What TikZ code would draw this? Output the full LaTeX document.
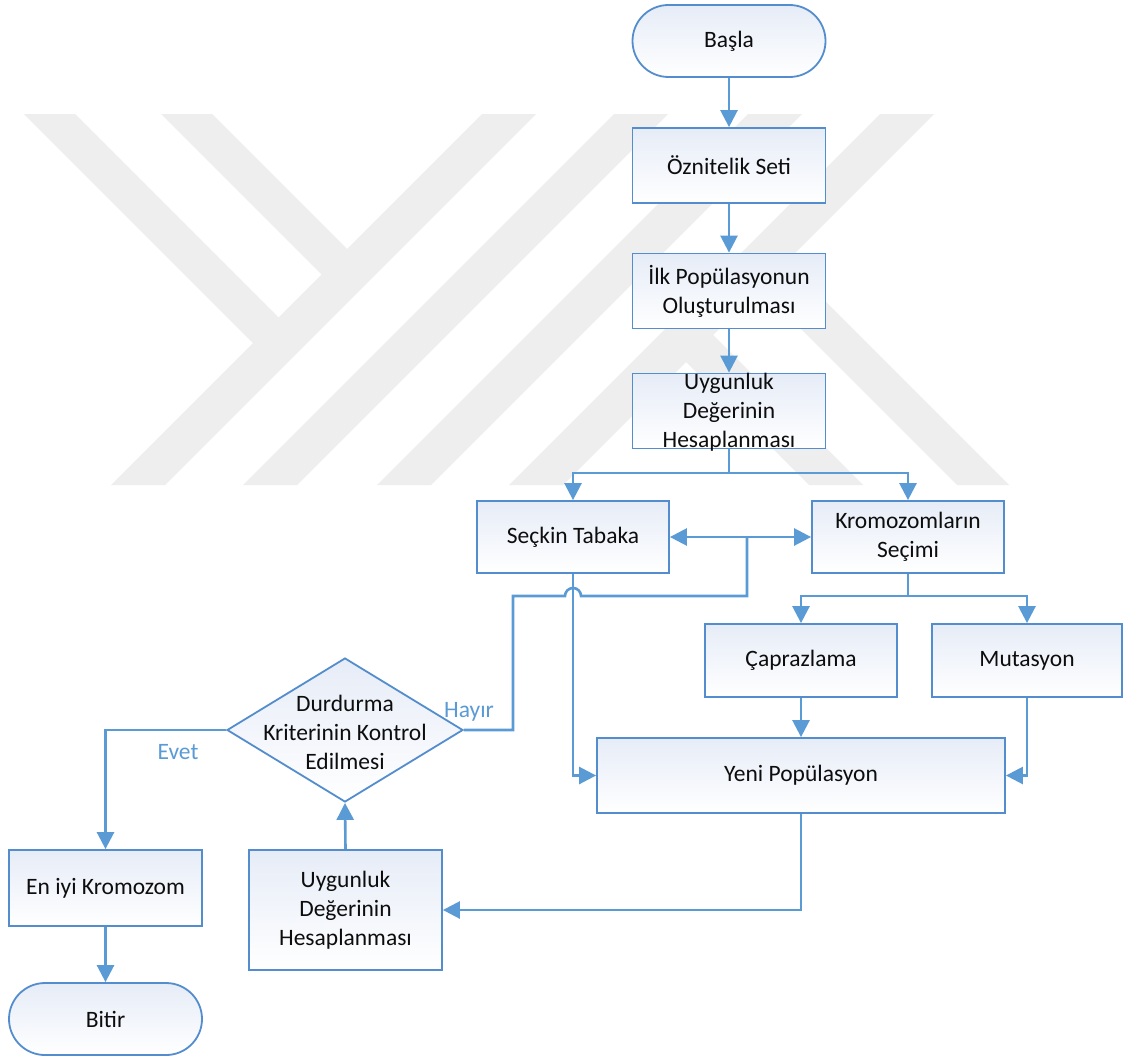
\documentclass[tikz,border=0pt]{standalone}
\usepackage{fontspec}
\setmainfont{Carlito}
\usetikzlibrary{arrows.meta,shapes.geometric}
\definecolor{linecol}{RGB}{91,155,213}
\definecolor{bordercol}{RGB}{84,141,205}
\definecolor{boxtop}{RGB}{230,236,247}
\definecolor{wm}{RGB}{238,238,238}
\definecolor{txtcol}{RGB}{13,13,13}
\newcommand{\lblfont}{\fontsize{23.5}{29}\selectfont}

\begin{document}
\begin{tikzpicture}[x=1pt,y=-1pt,
  box/.style={draw=bordercol, line width=1.8pt, top color=boxtop, bottom color=white,
    minimum width=193pt, minimum height=75pt, inner sep=0pt, align=center,
    font=\lblfont, text=txtcol},
  term/.style={box, rounded corners=36pt, minimum height=72pt},
  decision/.style={box, diamond, minimum width=236pt, minimum height=144pt},
  txt/.style={align=center, font=\lblfont, text=txtcol, inner sep=0pt},
  answer/.style={font=\lblfont, text=linecol, inner sep=0pt},
  conn/.style={draw=linecol, line width=2.6pt},
  arr/.style={conn, -{Triangle[length=17pt,width=17pt]}},
  band/.style={fill=wm, draw=none},
]
% page
\fill[white] (0,0) rectangle (1123,1057);
\useasboundingbox (0,0) rectangle (1123,1057);

% background logo bands
\fill[band] (24,114) -- (75,114) -- (280.5,319.5) -- (255,345) -- cycle;
\fill[band] (161,114) -- (212,114) -- (349,251) -- (323.5,276.5) -- cycle;
\fill[band] (482,114) -- (536,114) -- (165,485) -- (111,485) -- cycle;
\fill[band] (614,114) -- (668,114) -- (297,485) -- (243,485) -- cycle;
\fill[band] (748,114) -- (802,114) -- (431,485) -- (377,485) -- cycle;
\fill[band] (880,114) -- (934,114) -- (563,485) -- (509,485) -- cycle;
\fill[band] (684,360) -- (711,333) -- (863,485) -- (809,485) -- cycle;
\fill[band] (758,286) -- (784,260) -- (1009,485) -- (957,485) -- cycle;

% main column
\node[term] (basla) at (729,41) {Başla};
\node[box] (oz) at (729,165.5) {Öznitelik Seti};
\node[box] (ilk) at (729,291) {İlk Popülasyonun\\Oluşturulması};
\node[box] (uyg1) at (729,411) {};
\node[txt] (uyg1t) at (729,412) {Uygunluk\\Değerinin\\Hesaplanması};

% second row
\node[box, minimum width=192pt, minimum height=72pt] (seckin) at (573,537) {Seçkin Tabaka};
\node[box, minimum width=192pt, minimum height=72pt] (krom) at (908,537) {Kromozomların\\Seçimi};

% operators
\node[box, minimum width=192pt, minimum height=73pt] (capr) at (801,660.5) {Çaprazlama};
\node[box, minimum width=190pt, minimum height=73pt] (mut) at (1027,660.5) {Mutasyon};
\node[box, minimum width=408pt] (yeni) at (801,775.5) {Yeni Popülasyon};

% evaluation and decision
\node[box, minimum height=120pt] (uyg2) at (345.5,910) {Uygunluk\\Değerinin\\Hesaplanması};
\node[decision] (dec) at (345,730) {};
\node[txt] (dect) at (345,732) {Durdurma\\Kriterinin Kontrol\\Edilmesi};

% result
\node[box, minimum height=76pt] (eniyi) at (105.5,888) {En iyi Kromozom};
\node[term] (bitir) at (105.5,1019) {Bitir};

% branch labels
\node[answer] (hayir) at (469,712) {Hayır};
\node[answer] (evet) at (178,752) {Evet};

% connectors
\coordinate (s1) at (729,473);
\coordinate (j) at (747,537);
\coordinate (s2) at (908,596);

\draw[arr] (basla.south) -- (oz.north);
\draw[arr] (oz.south) -- (ilk.north);
\draw[arr] (ilk.south) -- (uyg1.north);
\draw[conn] (uyg1.south) -- (s1);
\draw[arr] (s1) -| (seckin.north);
\draw[arr] (s1) -| (krom.north);

\draw[conn] (dec.east) -- (513,730) -- (513,596) -- (565,596)
  arc[start angle=180, end angle=360, radius=8] -- (747,596) -- (j);
\draw[arr] (j) -- (seckin.east);
\draw[arr] (j) -- (krom.west);

\draw[conn] (krom.south) -- (s2);
\draw[arr] (s2) -| (capr.north);
\draw[arr] (s2) -| (mut.north);

\draw[arr] (capr.south) -- (yeni.north);
\draw[arr] (mut.south) |- (yeni.east);
\draw[arr] (seckin.south) |- (yeni.west);

\draw[arr] (yeni.south) |- (uyg2.east);
\draw[arr] (uyg2.north) -- (dec.south);
\draw[arr] (dec.west) -| (eniyi.north);
\draw[arr] (eniyi.south) -- (bitir.north);
\end{tikzpicture}
\end{document}
